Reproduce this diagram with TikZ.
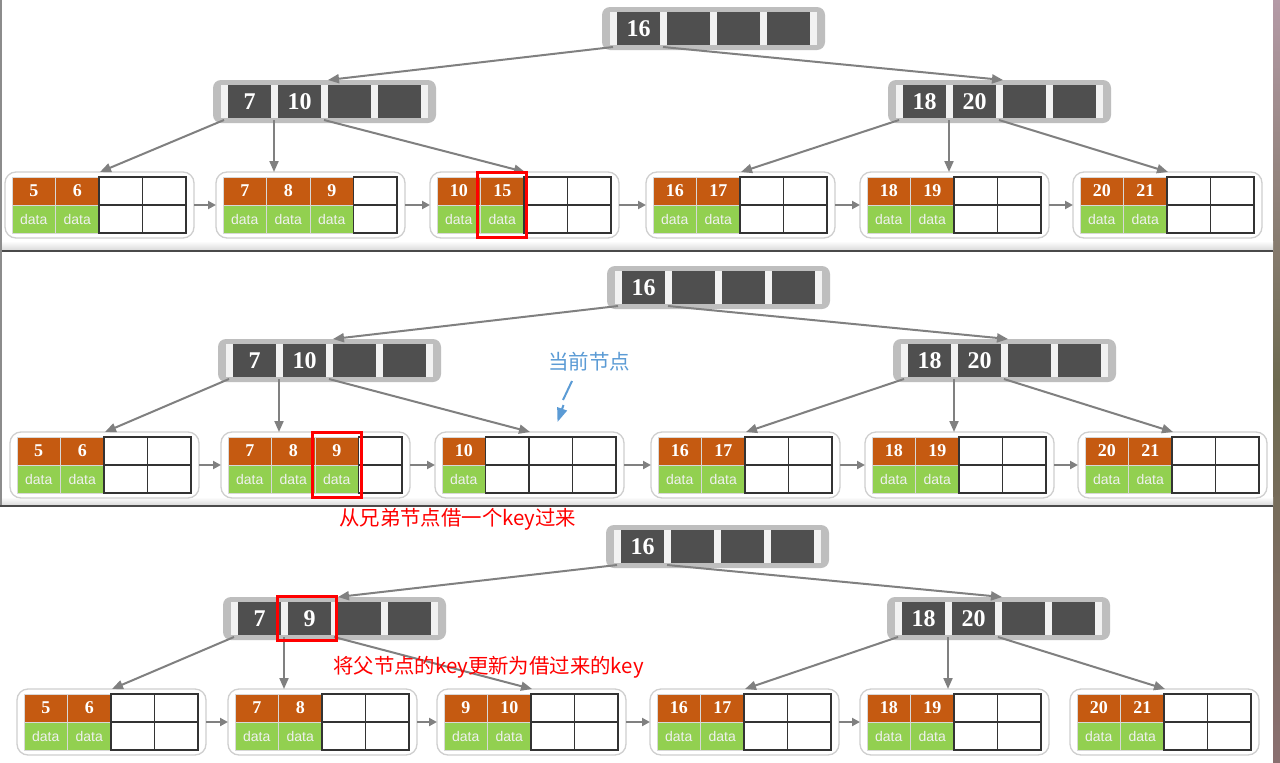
\documentclass[tikz,border=0pt]{standalone}
\usepackage{fontspec}
\setmainfont{Liberation Serif}
\setsansfont{Liberation Sans}
\newfontfamily\cjk{Noto Sans CJK SC}
\usetikzlibrary{arrows.meta,fit,calc}
\definecolor{korange}{HTML}{C55A11}
\definecolor{kgreen}{HTML}{92D050}
\definecolor{kdark}{HTML}{4F4F4F}
\definecolor{pillgray}{HTML}{BEBEBE}
\definecolor{stripegray}{HTML}{F2F2F2}
\definecolor{leafborder}{HTML}{CFCFCF}
\definecolor{arrowgray}{HTML}{808080}
\definecolor{cellsep}{HTML}{D8D8D8}
\definecolor{annblue}{HTML}{5B9BD5}
\definecolor{sepdark}{HTML}{4A4A4A}
\definecolor{phototop}{HTML}{B49AA6}
\definecolor{photomid}{HTML}{6D6A50}
\definecolor{photobot}{HTML}{8A6F70}
\tikzset{
  darkcell/.style={fill=kdark, minimum width=43pt, minimum height=33pt, inner sep=0pt,
    text=white, font=\bfseries\fontsize{24}{24}\selectfont},
  keycell/.style={fill=korange, draw=cellsep, line width=0.8pt, minimum width=43.5pt,
    minimum height=28pt, inner sep=0pt, text=white, font=\bfseries\fontsize{18}{18}\selectfont},
  datacell/.style={fill=kgreen, draw=cellsep, line width=0.8pt, minimum width=43.5pt,
    minimum height=28pt, inner sep=0pt, text=white!94!black, font=\sffamily\fontsize{14}{14}\selectfont},
  emptycell/.style={fill=white, draw=black!80, line width=1.5pt, minimum width=43.5pt,
    minimum height=28pt, inner sep=0pt},
  leafbox/.style={fill=white, draw=leafborder, line width=1.3pt, rounded corners=11pt},
  tree/.style={draw=arrowgray, line width=2pt, -{Triangle[length=11pt,width=9pt]}},
  leafarrow/.style={draw=arrowgray, line width=2pt, -{Triangle[length=8pt,width=8pt]}},
  redbox/.style={draw=red, line width=3pt, inner sep=0pt},
  redtext/.style={text=red, inner sep=0pt, anchor=west},
}
% internal node: name, x of first cell, y top of cells, keys
\newcommand\innode[4]{%
  \fill[pillgray, rounded corners=8pt] (#2-15,#3-5) rectangle (#2+208,#3+38);
  \fill[stripegray] (#2-7,#3) rectangle (#2+200,#3+33);
  \foreach \k [count=\i] in {#4} {
    \node[darkcell] (#1-\i) at ({#2+21.5+50*(\i-1)},{#3+16.5}) {\k};
  }
  \coordinate (#1-top) at (#2+100,#3-5);
  \foreach \i in {0,1,2} {\coordinate (#1-p\i) at ({#2-4+50*\i},{#3+35});}
}
% leaf: name, x of first cell, y top, number of keys, keys
\newcommand\leaf[5]{%
  \filldraw[leafbox] (#2-7,#3-5) rectangle (#2+182,#3+61);
  \foreach \k [count=\i] in {#5} {
    \node[keycell] (#1-k\i) at ({#2+21.75+43.5*(\i-1)},{#3+14}) {\k};
    \node[datacell] (#1-d\i) at ({#2+21.75+43.5*(\i-1)},{#3+42}) {data};
  }
  \pgfmathtruncatemacro\lstart{#4+1}
  \foreach \i in {\lstart,...,4} {
    \node[emptycell] (#1-k\i) at ({#2+21.75+43.5*(\i-1)},{#3+14}) {};
    \node[emptycell] (#1-d\i) at ({#2+21.75+43.5*(\i-1)},{#3+42}) {};
  }
  \coordinate (#1-in) at (#2-7,#3+28);
  \coordinate (#1-out) at (#2+182,#3+28);
  \coordinate (#1-t) at (#2+88,#3-5);
}
\begin{document}
\begin{tikzpicture}[x=1pt,y=-1pt]
\useasboundingbox (0,0) rectangle (1280,763);
% background: photo strip and panels
\shade[top color=phototop, bottom color=photobot, middle color=photomid]
  (1272,0) rectangle (1280,763);
\fill[white] (0,0) rectangle (1273,250);
\shade[top color=white, bottom color=black!14] (0,241) rectangle (1273,250);
\fill[sepdark] (0,249.5) rectangle (1273,252);
\fill[white] (0,252) rectangle (1273,505);
\shade[top color=white, bottom color=black!14] (0,497) rectangle (1273,505);
\fill[sepdark] (0,504.5) rectangle (1273,507);
\fill[white] (0,507) rectangle (1273,763);
\draw[black!45, line width=1.5pt] (1,0) -- (1,505);

% ================= panel 1 =================
\innode{Ar}{617}{12}{16,{},{},{}}
\innode{Al}{228}{85}{7,10,{},{}}
\innode{Ax}{903}{85}{18,20,{},{}}
\leaf{A1}{12}{177}{2}{5,6}
\leaf{A2}{223}{177}{3}{7,8,9}
\leaf{A3}{437}{177}{2}{10,15}
\leaf{A4}{653}{177}{2}{16,17}
\leaf{A5}{867}{177}{2}{18,19}
\leaf{A6}{1080}{177}{2}{20,21}
\draw[tree] (Ar-p0) -- (Al-top);
\draw[tree] (Ar-p1) -- (Ax-top);
\draw[tree] (Al-p0) -- (A1-t);
\draw[tree] (Al-p1) -- (Al-p1 |- A2-t);
\draw[tree] (Al-p2) -- (A3-t);
\draw[tree] (Ax-p0) -- (A4-t);
\draw[tree] (Ax-p1) -- (Ax-p1 |- A5-t);
\draw[tree] (Ax-p2) -- (A6-t);
\draw[leafarrow] (A1-out) -- (A2-in);
\draw[leafarrow] (A2-out) -- (A3-in);
\draw[leafarrow] (A3-out) -- (A4-in);
\draw[leafarrow] (A4-out) -- (A5-in);
\draw[leafarrow] (A5-out) -- (A6-in);
\node[redbox, fit=(A3-k2)(A3-d2), inner xsep=2.5pt, inner ysep=4pt] (A3red) {};

% ================= panel 2 =================
\innode{Br}{622}{271}{16,{},{},{}}
\innode{Bl}{233}{344}{7,10,{},{}}
\innode{Bx}{908}{344}{18,20,{},{}}
\leaf{B1}{17}{437}{2}{5,6}
\leaf{B2}{228}{437}{3}{7,8,9}
\leaf{B3}{442}{437}{1}{10}
\leaf{B4}{658}{437}{2}{16,17}
\leaf{B5}{872}{437}{2}{18,19}
\leaf{B6}{1085}{437}{2}{20,21}
\draw[tree] (Br-p0) -- (Bl-top);
\draw[tree] (Br-p1) -- (Bx-top);
\draw[tree] (Bl-p0) -- (B1-t);
\draw[tree] (Bl-p1) -- (Bl-p1 |- B2-t);
\draw[tree] (Bl-p2) -- (B3-t);
\draw[tree] (Bx-p0) -- (B4-t);
\draw[tree] (Bx-p1) -- (Bx-p1 |- B5-t);
\draw[tree] (Bx-p2) -- (B6-t);
\draw[leafarrow] (B1-out) -- (B2-in);
\draw[leafarrow] (B2-out) -- (B3-in);
\draw[leafarrow] (B3-out) -- (B4-in);
\draw[leafarrow] (B4-out) -- (B5-in);
\draw[leafarrow] (B5-out) -- (B6-in);
\node[redbox, fit=(B2-k3)(B2-d3), inner xsep=2.5pt, inner ysep=4pt] (B2red) {};
\node[text=annblue, inner sep=0pt, font=\cjk\fontsize{20.5}{20}\selectfont] (cur) at (589,362) {当前节点};
\coordinate (ba) at (572,381);
\coordinate (bb) at (563,400);
\coordinate (bc) at (563.5,405);
\coordinate (bd) at (557.5,422);
\draw[annblue, line width=2pt] (ba) -- (bb);
\draw[annblue, line width=2pt, -{Triangle[length=14pt,width=10pt]}] (bc) -- (bd);
\node[redtext, font=\cjk\fontsize{20.4}{20}\selectfont] (t1) at (339,519) {从兄弟节点借一个key过来};

% ================= panel 3 =================
\innode{Cr}{621}{530}{16,{},{},{}}
\innode{Cl}{238}{602}{7,9,{},{}}
\innode{Cx}{902}{602}{18,20,{},{}}
\leaf{C1}{24}{694}{2}{5,6}
\leaf{C2}{235}{694}{2}{7,8}
\leaf{C3}{444}{694}{2}{9,10}
\leaf{C4}{657}{694}{2}{16,17}
\leaf{C5}{867}{694}{2}{18,19}
\leaf{C6}{1077}{694}{2}{20,21}
\draw[tree] (Cr-p0) -- (Cl-top);
\draw[tree] (Cr-p1) -- (Cx-top);
\draw[tree] (Cl-p0) -- (C1-t);
\draw[tree] (Cl-p1) -- (Cl-p1 |- C2-t);
\draw[tree] (Cl-p2) -- (C3-t);
\draw[tree] (Cx-p0) -- (C4-t);
\draw[tree] (Cx-p1) -- (Cx-p1 |- C5-t);
\draw[tree] (Cx-p2) -- (C6-t);
\draw[leafarrow] (C1-out) -- (C2-in);
\draw[leafarrow] (C2-out) -- (C3-in);
\draw[leafarrow] (C3-out) -- (C4-in);
\draw[leafarrow] (C4-out) -- (C5-in);
\draw[redbox] ([shift={(-10,-5)}]Cl-2.north west) rectangle ([shift={(5,5)}]Cl-2.south east);
\node[redtext, font=\cjk\fontsize{20.4}{20}\selectfont] (t2) at (333,667) {将父节点的key更新为借过来的key};
\end{tikzpicture}
\end{document}
